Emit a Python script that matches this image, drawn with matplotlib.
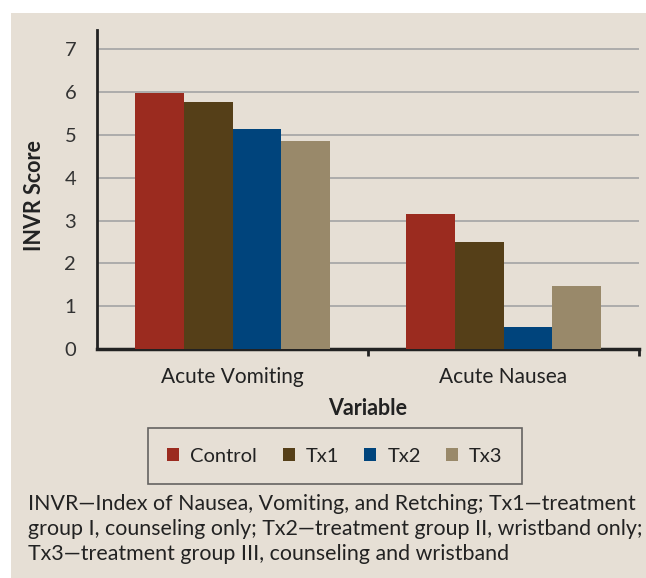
import matplotlib
matplotlib.use("Agg")
import matplotlib.pyplot as plt
import numpy as np
from matplotlib.patches import Rectangle

categories = ["Acute Vomiting", "Acute Nausea"]
series = ["Control", "Tx1", "Tx2", "Tx3"]
control = [5.97, 3.16]
tx1 = [5.76, 2.49]
tx2 = [5.13, 0.52]
tx3 = [4.85, 1.46]
values = [control, tx1, tx2, tx3]
colors = ["#9b2b1f", "#553f18", "#00447c", "#99896a"]
yticks = [0, 1, 2, 3, 4, 5, 6, 7]
caption = ("INVR\u2014Index of Nausea, Vomiting, and Retching; Tx1\u2014treatment\n"
           "group I, counseling only; Tx2\u2014treatment group II, wristband only;\n"
           "Tx3\u2014treatment group III, counseling and wristband")

W, H = 646, 578
bg = "#e6dfd5"
plt.rcParams['font.family'] = ['Lato', 'DejaVu Sans']

fig = plt.figure(figsize=(W / 100, H / 100), dpi=100)
fig.patch.set_facecolor("white")
fig.patches.append(Rectangle((11 / W, 0), 1 - 11 / W, 1 - 13 / H,
                             transform=fig.transFigure, facecolor=bg,
                             edgecolor="none", zorder=-10))

ax = fig.add_axes([97 / W, (H - 349) / H, (639 - 97) / W, (349 - 30) / H])
ax.set_facecolor(bg)
x = np.arange(len(categories))
bw = 0.18
for i, (s, v, c) in enumerate(zip(series, values, colors)):
    ax.bar(x + (i - 1.5) * bw, v, bw, color=c, label=s, zorder=3)

ax.set_xlim(-0.5, 1.5)
ax.set_ylim(0, 7.45)
ax.set_yticks(yticks)
ax.yaxis.grid(True, color="#a8a8a8", linewidth=1.3, zorder=0)
ax.tick_params(axis="y", length=0, pad=15, labelsize=14.5, labelcolor="#333333")
ax.set_xticks(x)
ax.set_xticklabels(categories)
ax.tick_params(axis="x", length=0, pad=13, labelsize=15, labelcolor="#222222")
ax.set_xticks([0.5, 1.5], minor=True)
ax.tick_params(axis="x", which="minor", length=5, width=2, color="#222222")
for sp in ["top", "right"]:
    ax.spines[sp].set_visible(False)
ax.spines["left"].set_linewidth(2)
ax.spines["bottom"].set_linewidth(2.5)
ax.spines["left"].set_color("#222222")
ax.spines["bottom"].set_color("#222222")

ax.set_ylabel("INVR Score", fontsize=15.5, fontweight="bold", color="#222222")
ax.yaxis.set_label_coords(-(97 - 45) / (639 - 97), (349 - 196) / (349 - 30))
ax.set_xlabel("Variable", fontsize=15.5, fontweight="bold", color="#222222", labelpad=8)

leg = ax.legend(loc="center", bbox_to_anchor=((335 - 97) / (639 - 97), -(456 - 349) / (349 - 30)),
                ncol=4, frameon=True, fontsize=14.5, handlelength=0.6, handleheight=0.6,
                handletextpad=0.55, columnspacing=1.25, borderpad=0.95, fancybox=False)
leg.get_frame().set_facecolor(bg)
leg.get_frame().set_edgecolor("#444444")
leg.get_frame().set_linewidth(1.2)
for t in leg.get_texts():
    t.set_color("#222222")

fig.text(28 / W, (H - 494) / H, caption, fontsize=15.4, color="#222222",
         va="top", ha="left", linespacing=1.3)

fig.savefig("out.png", dpi=100, facecolor=fig.get_facecolor())
